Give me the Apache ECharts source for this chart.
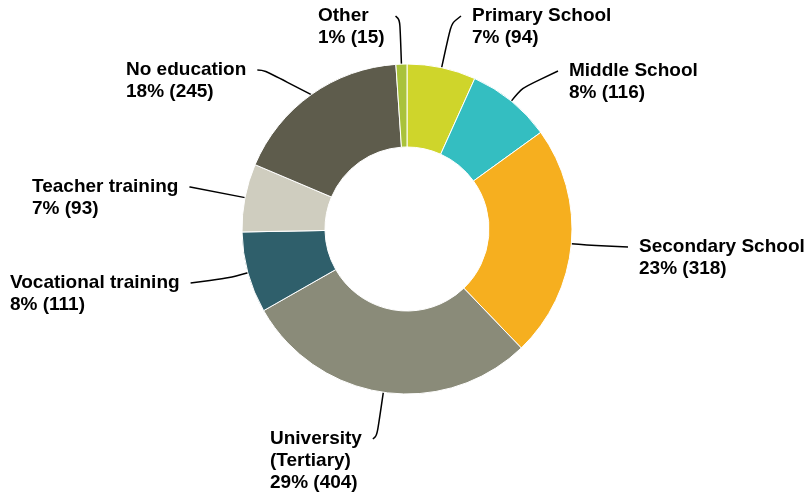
<!DOCTYPE html>
<html>
<head>
<meta charset="utf-8">
<script src="https://cdn.jsdelivr.net/npm/echarts@6/dist/echarts.min.js"></script>
<style>
  html, body { margin: 0; padding: 0; background: #fff; }
  #chart { width: 806px; height: 495px; }
</style>
</head>
<body>
<div id="chart"></div>
<script>
// Highest education level, counts per category (clockwise from 12 o'clock)
const categories = [
  'Primary School', 'Middle School', 'Secondary School', 'University\n(Tertiary)',
  'Vocational training', 'Teacher training', 'No education', 'Other'
];
const counts = [94, 116, 318, 404, 111, 93, 245, 15];

const palette = ['#cfd52b', '#34bec1', '#f6af1f', '#8a8b79', '#2f5f6b', '#cfcdbf', '#5e5c4c', '#a9c23b'];

// Where each label's text block sits (top-left corner, px)
const labelSpots = {
  'Primary School': [472, 5],
  'Middle School': [569, 60],
  'Secondary School': [639, 236],
  'University\n(Tertiary)': [270, 428],
  'Vocational training': [10, 272],
  'Teacher training': [32, 176],
  'No education': [126, 59],
  'Other': [318, 5]
};

const CENTER = [407, 229];
const LINE_H = 22;
const GAP = 11;

const total = counts.reduce((a, b) => a + b, 0);

// Leader line: leave the ring radially, then bend toward the label's first line
function leaderPoints(edge, rect, spot) {
  const onLeft = spot[0] < CENTER[0];
  const end = [onLeft ? spot[0] + rect.width + GAP : spot[0] - GAP, spot[1] + LINE_H / 2];
  const dx = edge[0] - CENTER[0], dy = edge[1] - CENTER[1];
  const len = Math.hypot(dx, dy);
  const ux = dx / len, uy = dy / len;
  if (Math.abs(uy) > 1e-3) {
    const t = (end[1] - edge[1]) / uy;
    if (t > 0) {
      const corner = [edge[0] + ux * t, end[1]];
      const stillBefore = onLeft ? corner[0] > end[0] : corner[0] < end[0];
      if (stillBefore) return [edge, corner, end];
    }
  }
  return [edge, end];
}

const chart = echarts.init(document.getElementById('chart'), null, { renderer: 'canvas' });
chart.setOption({
  animation: false,
  series: [{
    type: 'pie',
    center: CENTER,
    radius: [82, 165],
    startAngle: 90,
    clockwise: true,
    avoidLabelOverlap: false,
    data: categories.map((name, i) => ({
      name: name,
      value: counts[i],
      itemStyle: { color: palette[i] }
    })),
    itemStyle: { borderColor: '#ffffff', borderWidth: 1 },
    label: {
      show: true,
      position: 'outside',
      color: '#000',
      fontFamily: 'Liberation Sans, Arial, sans-serif',
      fontWeight: 'bold',
      fontSize: 19,
      lineHeight: LINE_H,
      align: 'left',
      formatter: p => p.name + '\n' + Math.round(p.value / total * 100) + '% (' + p.value + ')'
    },
    labelLine: {
      show: true,
      smooth: 1,
      length: 15,
      length2: 20,
      lineStyle: { color: '#000', width: 1.5 }
    },
    labelLayout: function (params) {
      const spot = labelSpots[categories[params.dataIndex]];
      const edge = params.labelLinePoints[0];
      return {
        x: spot[0], y: spot[1], align: 'left', verticalAlign: 'top',
        labelLinePoints: leaderPoints(edge, params.labelRect, spot)
      };
    },
    emphasis: { disabled: true }
  }]
});
</script>
</body>
</html>
